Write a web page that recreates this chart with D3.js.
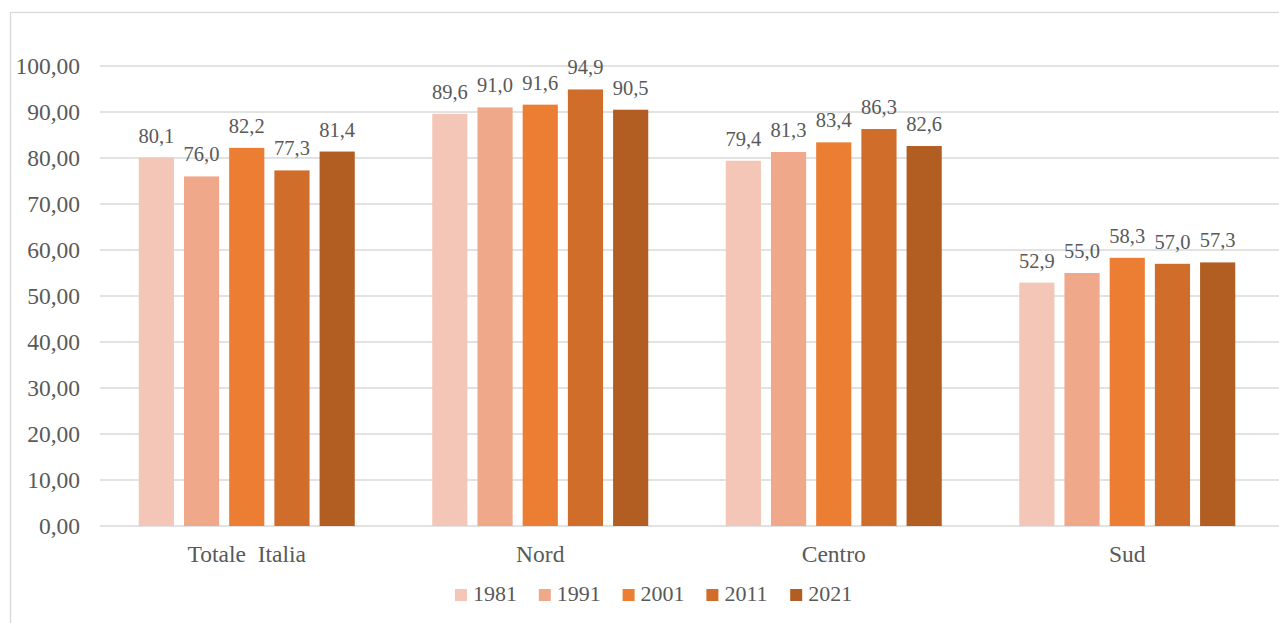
<!DOCTYPE html>
<html>
<head>
<meta charset="utf-8">
<script src="https://cdn.jsdelivr.net/npm/d3@7"></script>
<style>
  body { margin: 0; background: #fff; }
  svg text { fill: #595959; }
</style>
</head>
<body>
<script>
// data
var categories = ["Totale  Italia", "Nord", "Centro", "Sud"];
var years = ["1981", "1991", "2001", "2011", "2021"];
var values1981 = [80.1, 89.6, 79.4, 52.9];
var values1991 = [76.0, 91.0, 81.3, 55.0];
var values2001 = [82.2, 91.6, 83.4, 58.3];
var values2011 = [77.3, 94.9, 86.3, 57.0];
var values2021 = [81.4, 90.5, 82.6, 57.3];
var yTicks = [0, 10, 20, 30, 40, 50, 60, 70, 80, 90, 100];
var colors = ["#f4c6b7", "#f0a88b", "#ec7e33", "#d16d2b", "#b25d22"];

var seriesValues = [values1981, values1991, values2001, values2011, values2021];

var svgWidth = 1279;
var svgHeight = 623;
var fontFamily = "'Liberation Serif', 'DejaVu Serif', serif";

var svg = d3.select("body")
    .append("svg")
    .attr("width", svgWidth)
    .attr("height", svgHeight)
    .attr("font-family", fontFamily);

// outer frame
svg.append("rect")
    .attr("x", 10.5)
    .attr("y", 12.5)
    .attr("width", 1300)
    .attr("height", 700)
    .attr("fill", "none")
    .attr("stroke", "#d9d9d9")
    .attr("stroke-width", 1.3);

var plotLeft = 100, plotRight = 1274, plotTop = 66, plotBottom = 526;

var yScale = d3.scaleLinear()
    .domain([0, 100])
    .range([plotBottom, plotTop]);

var x0 = d3.scaleBand()
    .domain(categories)
    .range([plotLeft, plotRight])
    .padding(0);

var groupWidth = 216;
var x1 = d3.scaleBand()
    .domain(years)
    .range([0, groupWidth])
    .paddingInner(0.222);

// gridlines
svg.append("g")
    .selectAll("line")
    .data(yTicks)
    .enter()
    .append("line")
    .attr("x1", plotLeft)
    .attr("x2", plotRight + 10)
    .attr("y1", d => yScale(d))
    .attr("y2", d => yScale(d))
    .attr("stroke", "#d9d9d9")
    .attr("stroke-width", 1.3);

// y labels
svg.append("g")
    .selectAll("text")
    .data(yTicks)
    .enter()
    .append("text")
    .attr("x", 80)
    .attr("y", d => yScale(d) + 8)
    .attr("text-anchor", "end")
    .attr("font-size", "23.5px")
    .text(d => d3.format(".2f")(d).replace(".", ","));

// bars
var groups = svg.selectAll(".grp")
    .data(categories)
    .enter()
    .append("g")
    .attr("class", "grp")
    .attr("transform", d => `translate(${x0(d) + (x0.bandwidth() - groupWidth) / 2}, 0)`);

groups.selectAll("rect")
    .data((c, i) => years.map((y, j) => ({year: y, value: seriesValues[j][i], color: colors[j]})))
    .enter()
    .append("rect")
    .attr("x", d => x1(d.year))
    .attr("y", d => yScale(d.value))
    .attr("width", x1.bandwidth())
    .attr("height", d => yScale(0) - yScale(d.value))
    .attr("fill", d => d.color);

groups.selectAll(".lbl")
    .data((c, i) => years.map((y, j) => ({year: y, value: seriesValues[j][i]})))
    .enter()
    .append("text")
    .attr("class", "lbl")
    .attr("x", d => x1(d.year) + x1.bandwidth() / 2)
    .attr("y", d => yScale(d.value) - 15)
    .attr("text-anchor", "middle")
    .attr("font-size", "20.5px")
    .text(d => d3.format(".1f")(d.value).replace(".", ","));

// category labels
svg.append("g")
    .selectAll("text")
    .data(categories)
    .enter()
    .append("text")
    .attr("x", d => x0(d) + x0.bandwidth() / 2)
    .attr("y", 562)
    .attr("text-anchor", "middle")
    .attr("font-size", "23.5px")
    .style("white-space", "pre")
    .text(d => d);

// legend
var legend = svg.append("g")
    .selectAll("g")
    .data(years)
    .enter()
    .append("g")
    .attr("transform", (d, i) => `translate(${455 + i * 83.8}, 0)`);

legend.append("rect")
    .attr("x", 0)
    .attr("y", 589)
    .attr("width", 12)
    .attr("height", 12)
    .attr("fill", (d, i) => colors[i]);

legend.append("text")
    .attr("x", 18)
    .attr("y", 601)
    .attr("font-size", "22px")
    .text(d => d);
</script>
</body>
</html>
